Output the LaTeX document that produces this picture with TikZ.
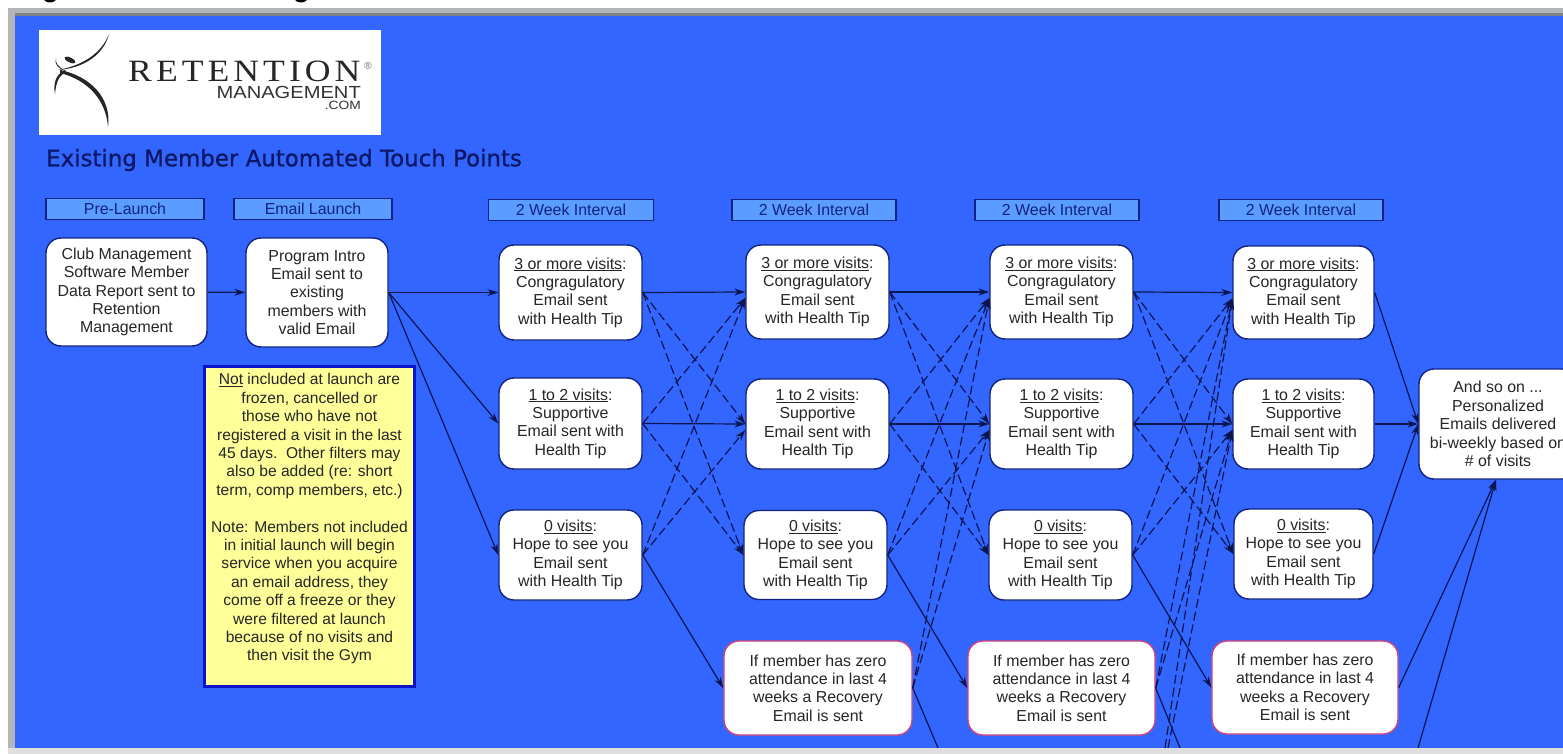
\documentclass[tikz,border=0pt]{standalone}
\usepackage{fontspec}
\setmainfont{Liberation Sans}
\newfontfamily\titlefont[FakeBold=0.9]{DejaVu Sans}
\newfontfamily\logoserif[FakeStretch=1.15,LetterSpace=13]{Liberation Serif}
\newfontfamily\logosans[FakeStretch=1.15]{Liberation Sans}
\usetikzlibrary{arrows.meta}
\definecolor{bgblue}{HTML}{3366FF}
\definecolor{hdrfill}{HTML}{5A9CFF}
\definecolor{navy}{HTML}{12237F}
\definecolor{titlecol}{HTML}{0C1766}
\definecolor{linecol}{HTML}{0B1550}
\definecolor{txt}{HTML}{262626}
\definecolor{pinkline}{HTML}{D2447A}
\definecolor{notefill}{HTML}{FFFF99}
\definecolor{noteline}{HTML}{0A14C8}
\definecolor{framegray}{HTML}{B4B5B8}
\definecolor{framedark}{HTML}{7F8185}
\tikzset{
  base/.style={font=\fontsize{15.9}{18.4}\selectfont,text=txt,align=center,inner sep=0pt},
  hdr/.style={base,draw=navy,line width=1.2pt,fill=hdrfill,text=navy,minimum height=21pt},
  rbox/.style={base,fill=white,draw=navy,line width=1.4pt,rounded corners=15pt},
  redbox/.style={rbox,draw=pinkline},
  notebox/.style={base,font=\fontsize{15.6}{18.4}\selectfont,fill=notefill,draw=noteline,line width=3pt,minimum width=210pt,minimum height=320pt},
  link/.style={draw=linecol,line width=1.2pt,-{Stealth[length=11pt,width=7pt]}},
  dlink/.style={link,dash pattern=on 9pt off 4pt},
  plain/.style={draw=linecol,line width=1.2pt}
}
\begin{document}
\begin{tikzpicture}[x=1pt,y=-1pt]
\clip (0,0) rectangle (1563,754);
\fill[white] (0,0) rectangle (1563,754);
\fill[black] (50,-3) ellipse (7pt and 5.5pt);
\fill[black] (301,-3) ellipse (7pt and 5.5pt);
\fill[framegray] (8,8) rectangle (1563,748);
\fill[framedark] (15,13) rectangle (1563,16);
\fill[bgblue] (15,16) rectangle (1563,748);
\node[fill=white,inner sep=0pt,minimum width=342pt,minimum height=105pt] (logo) at (210,82.5) {};
\fill[black!85] (109,34) .. controls (104,54) and (85,68) .. (58,70) .. controls (85,65) and (102,52) .. (109,34) -- cycle;
\fill[black!85] (56,58) .. controls (55,63) and (58,67) .. (66,71) .. controls (58,69) and (54,64) .. (56,58) -- cycle;
\fill[black!85] (60,70) .. controls (90,76) and (112,98) .. (108,127) .. controls (106,100) and (88,80) .. (60,73) -- cycle;
\fill[black!85] (65,70) .. controls (56,74) and (53,83) .. (55,94) .. controls (56,84) and (58,76) .. (65,73) -- cycle;
\fill[black!85,rotate around={-25:(70,60)}] (70,60) ellipse (6pt and 2.4pt);
\node[inner sep=0pt,anchor=west,text=black!85] (logoa) at (128,71.5) {\logoserif\fontsize{31}{31}\selectfont RETENTION};
\node[inner sep=0pt,anchor=east,text=black!80] (logob) at (361,92.5) {\logosans\fontsize{17.5}{17.5}\selectfont MANAGEMENT};
\node[inner sep=0pt,anchor=east,text=black!80] (logoc) at (361,105) {\logosans\fontsize{12}{12}\selectfont .COM};
\node[inner sep=0pt,text=black!60] (logor) at (368,66) {\fontsize{10}{10}\selectfont ®};
\node[inner sep=0pt,anchor=west,text=titlecol] (title) at (46,160) {\titlefont\fontsize{22.9}{23}\selectfont Existing Member Automated Touch Points};
\node[hdr,minimum width=158pt] (h1) at (125,209) {Pre-Launch};
\node[hdr,minimum width=158pt] (h2) at (313,209) {Email Launch};
\node[hdr,minimum width=165pt] (h3) at (571,210) {2 Week Interval};
\node[hdr,minimum width=164pt] (h4) at (814,210) {2 Week Interval};
\node[hdr,minimum width=164pt] (h5) at (1057,210) {2 Week Interval};
\node[hdr,minimum width=164pt] (h6) at (1301,210) {2 Week Interval};
\node[rbox,minimum width=161pt,minimum height=108pt] (club) at (126.5,292) {Club Management\\Software Member\\Data Report sent to\\Retention\\Management};
\node[rbox,minimum width=142pt,minimum height=109pt] (prog) at (317,292.5) {Program Intro\\Email sent to\\existing\\members with\\valid Email};
\node[notebox] (note) at (309.5,526.5) {\underline{Not} included at launch are\\frozen, cancelled or\\those who have not\\registered a visit in the last\\45 days.\ \ Other filters may\\also be added (re: short\\term, comp members, etc.)\\[18.4pt]Note: Members not included\\in initial launch will begin\\service when you acquire\\an email address, they\\come off a freeze or they\\were filtered at launch\\because of no visits and\\then visit the Gym\\ \mbox{}};
\node[rbox,minimum width=143pt,minimum height=95pt] (a1) at (570.5,292.5) {\underline{3 or more visits}:\\Congragulatory\\Email sent\\with Health Tip};
\node[rbox,minimum width=143pt,minimum height=91pt] (b1) at (570.5,423.5) {\underline{1 to 2 visits}:\\Supportive\\Email sent with\\Health Tip};
\node[rbox,minimum width=143pt,minimum height=90pt] (c1) at (570.5,555) {\underline{0 visits}:\\Hope to see you\\Email sent\\with Health Tip};
\node[rbox,minimum width=143pt,minimum height=94pt] (a2) at (817.5,292) {\underline{3 or more visits}:\\Congragulatory\\Email sent\\with Health Tip};
\node[rbox,minimum width=143pt,minimum height=90pt] (b2) at (817.5,424) {\underline{1 to 2 visits}:\\Supportive\\Email sent with\\Health Tip};
\node[rbox,minimum width=143pt,minimum height=89pt] (c2) at (815.5,555) {\underline{0 visits}:\\Hope to see you\\Email sent\\with Health Tip};
\node[redbox,minimum width=188pt,minimum height=94pt] (r2) at (818,688) {If member has zero\\attendance in last 4\\weeks a Recovery\\Email is sent};
\node[rbox,minimum width=143pt,minimum height=94pt] (a3) at (1061.5,292) {\underline{3 or more visits}:\\Congragulatory\\Email sent\\with Health Tip};
\node[rbox,minimum width=143pt,minimum height=90pt] (b3) at (1061.5,424) {\underline{1 to 2 visits}:\\Supportive\\Email sent with\\Health Tip};
\node[rbox,minimum width=143pt,minimum height=90pt] (c3) at (1060.5,555) {\underline{0 visits}:\\Hope to see you\\Email sent\\with Health Tip};
\node[redbox,minimum width=187pt,minimum height=94pt] (r3) at (1061.5,688) {If member has zero\\attendance in last 4\\weeks a Recovery\\Email is sent};
\node[rbox,minimum width=141pt,minimum height=93pt] (a4) at (1303.5,292.5) {\underline{3 or more visits}:\\Congragulatory\\Email sent\\with Health Tip};
\node[rbox,minimum width=141pt,minimum height=90pt] (b4) at (1303.5,424) {\underline{1 to 2 visits}:\\Supportive\\Email sent with\\Health Tip};
\node[rbox,minimum width=139pt,minimum height=90pt] (c4) at (1303.5,554) {\underline{0 visits}:\\Hope to see you\\Email sent\\with Health Tip};
\node[redbox,minimum width=186pt,minimum height=93pt] (r4) at (1305,687.5) {If member has zero\\attendance in last 4\\weeks a Recovery\\Email is sent};
\node[rbox,minimum width=158pt,minimum height=110pt] (end) at (1498,424) {And so on ...\\Personalized\\Emails delivered\\bi-weekly based on\\\# of visits};
\coordinate (o2) at (938,748);
\coordinate (o3) at (1180,748);
\coordinate (o4) at (1418,748);
\coordinate (d1) at (1165,748);
\coordinate (d2) at (1168,748);
\draw[link] (club) -- (prog);
\draw[link] (prog.east) -- (a1.west);
\draw[link] (prog.east) -- (b1.west);
\draw[link] (prog.east) -- (c1.west);
\foreach \p/\q in {1/2,2/3,3/4}{
  \draw[link] (a\p.east) -- (a\q.west);
  \draw[link] (b\p.east) -- (b\q.west);
  \draw[dlink] (a\p.east) -- (b\q.west);
  \draw[dlink] (a\p.east) -- (c\q.west);
  \draw[dlink] (b\p.east) -- ([yshift=-6pt]a\q.west);
  \draw[dlink] (c\p.east) -- ([yshift=-6pt]a\q.west);
  \draw[dlink] (b\p.east) -- (c\q.west);
  \draw[dlink] (c\p.east) -- ([yshift=-6pt]b\q.west);
  \draw[link] (c\p.east) -- (r\q.west);
}
\foreach \p/\q in {2/3,3/4}{
  \draw[dlink] (r\p.east) -- ([yshift=-6pt]a\q.west);
  \draw[dlink] (r\p.east) -- ([yshift=-6pt]b\q.west);
}
\draw[plain] (r2.east) -- (o2);
\draw[plain] (r3.east) -- (o3);
\draw[dlink] (d1) -- ([yshift=-6pt]a4.west);
\draw[dlink] (d2) -- ([yshift=-6pt]b4.west);
\draw[link] (a4.east) -- (end.west);
\draw[link] (b4.east) -- (end.west);
\draw[link] (c4.east) -- (end.west);
\draw[link] (r4.east) -- ([xshift=-2pt]end.south);
\draw[link] (o4) -- ([xshift=-2pt]end.south);
\fill[gray!25] (0,748) rectangle (1563,754);
\fill[white] (0,0) rectangle (8,754);
\end{tikzpicture}
\end{document}
